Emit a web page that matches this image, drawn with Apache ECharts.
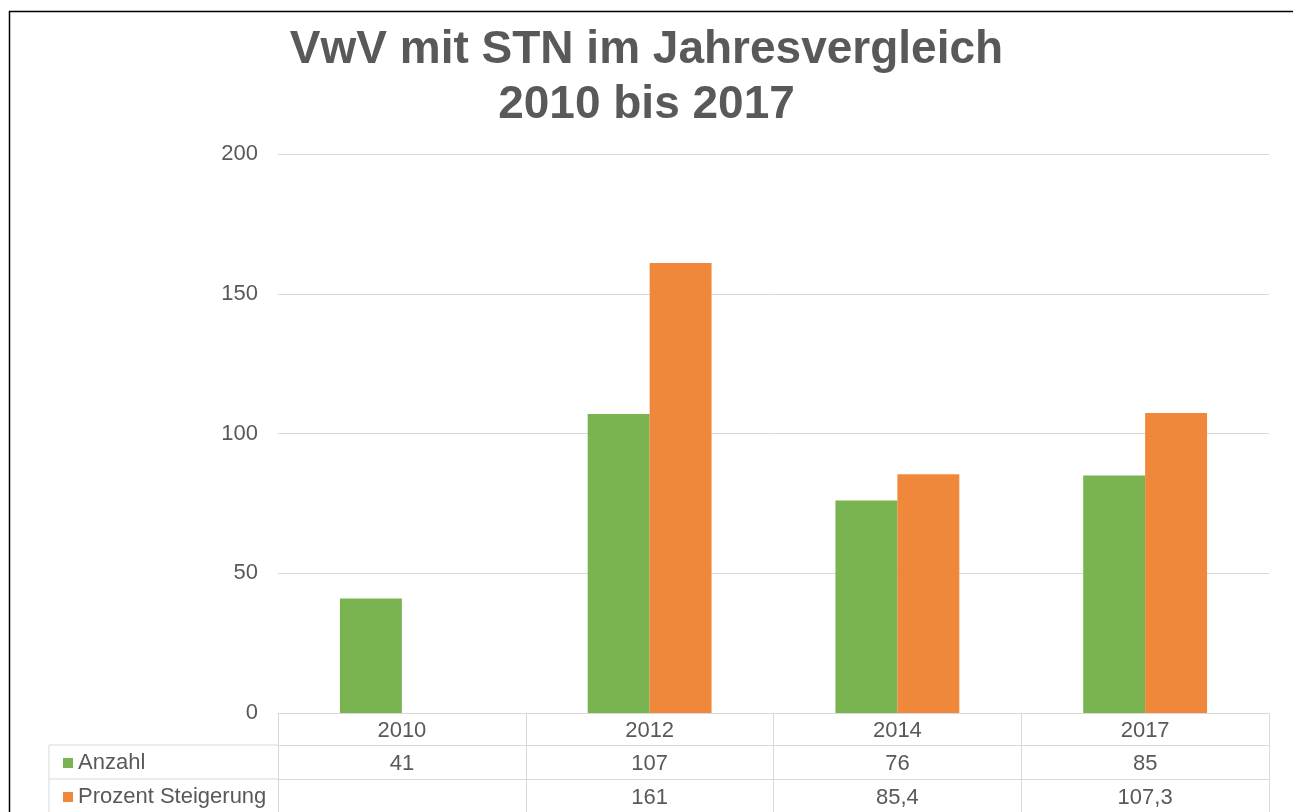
<!DOCTYPE html>
<html>
<head>
<meta charset="utf-8">
<script src="https://cdn.jsdelivr.net/npm/echarts@6/dist/echarts.min.js"></script>
<style>
  html, body { margin: 0; padding: 0; background: #fff; }
  #main { width: 1293px; height: 812px; }
</style>
</head>
<body>
<div id="main"></div>
<script>
const years = ['2010', '2012', '2014', '2017']; //Jahre
const anzahl = [41, 107, 76, 85]; //Anzahl VwV
const steigerung = [null, 161, 85.4, 107.3]; //Prozent Steigerung
const yTicks = { min: 0, max: 200, interval: 50 };

const gridLeft = 278, gridTop = 154, gridBottom = 99;
const tableLeft = 49;
const rowLines = [745, 779]; //Tabellenzeilen
const textColor = '#595959';
const lineColor = '#d9d9d9';
const font = "'Liberation Sans', Arial, sans-serif";

//Zahl deutsch formatieren
function fmt(v) {
  if (v === null || v === undefined) return '';
  return String(v).replace('.', ',');
}

//Legende als Tabellenzeile
function rowLegend(name, top) {
  return {
    left: 58,
    top: top,
    icon: 'rect',
    itemWidth: 10,
    itemHeight: 10,
    selectedMode: false,
    textStyle: { fontSize: 22, color: textColor, fontFamily: font },
    data: [name]
  };
}

const chart = echarts.init(document.getElementById('main'));

const option = {
  backgroundColor: '#ffffff',
  color: ['#7ab450', '#f0883b'],
  textStyle: { fontFamily: font },
  title: {
    text: 'VwV mit STN im Jahresvergleich\n2010 bis 2017',
    left: 'center',
    top: 23,
    padding: [0, 0, 0, 10],
    textStyle: {
      fontSize: 46,
      fontWeight: 'bold',
      color: textColor,
      lineHeight: 55,
      fontFamily: font
    }
  },
  legend: [
    rowLegend('Anzahl', 747),
    rowLegend('Prozent Steigerung', 781)
  ],
  grid: {
    left: gridLeft,
    right: 24,
    top: gridTop,
    bottom: gridBottom
  },
  xAxis: [{
      type: 'category',
      data: years,
      axisLine: { show: true, lineStyle: { color: lineColor } },
      axisTick: { show: true, length: 100, lineStyle: { color: lineColor } },
      axisLabel: { interval: 0, margin: 7, fontSize: 22, color: textColor }
    },
    {
      type: 'category',
      data: years,
      position: 'bottom',
      offset: rowLines[0] - (812 - gridBottom),
      axisLine: { show: true, lineStyle: { color: lineColor } },
      axisTick: { show: false },
      axisLabel: {
        interval: 0, margin: 8, fontSize: 22, color: textColor,
        formatter: (v, i) => fmt(anzahl[i])
      }
    },
    {
      type: 'category',
      data: years,
      position: 'bottom',
      offset: rowLines[1] - (812 - gridBottom),
      axisLine: { show: true, lineStyle: { color: lineColor } },
      axisTick: { show: false },
      axisLabel: {
        interval: 0, margin: 8, fontSize: 22, color: textColor,
        formatter: (v, i) => fmt(steigerung[i])
      }
    }
  ],
  yAxis: {
    type: 'value',
    min: yTicks.min,
    max: yTicks.max,
    interval: yTicks.interval,
    axisLine: { show: false },
    axisTick: { show: false },
    axisLabel: { margin: 20, fontSize: 22, color: textColor },
    splitLine: { lineStyle: { color: lineColor, width: 1 } }
  },
  series: [{
      name: 'Anzahl',
      type: 'bar',
      data: anzahl,
      barGap: '0%',
      barCategoryGap: '50%',
      silent: true
    },
    {
      name: 'Prozent Steigerung',
      type: 'bar',
      data: steigerung,
      barGap: '0%',
      barCategoryGap: '50%',
      silent: true
    }
  ],
  graphic: [
    //Rahmen
    {
      type: 'rect',
      shape: { x: 9.5, y: 11.5, width: 1400, height: 900 },
      style: { fill: 'none', stroke: '#000', lineWidth: 1.5 },
      silent: true
    },
    //linke Tabellenspalte
    {
      type: 'line',
      shape: { x1: tableLeft, y1: rowLines[0], x2: gridLeft, y2: rowLines[0] },
      style: { stroke: lineColor, lineWidth: 1 }
    },
    {
      type: 'line',
      shape: { x1: tableLeft, y1: rowLines[1], x2: gridLeft, y2: rowLines[1] },
      style: { stroke: lineColor, lineWidth: 1 }
    },
    {
      type: 'line',
      shape: { x1: tableLeft, y1: rowLines[0], x2: tableLeft, y2: 812 },
      style: { stroke: lineColor, lineWidth: 1 }
    }
  ]
};

chart.setOption(option);
</script>
</body>
</html>
